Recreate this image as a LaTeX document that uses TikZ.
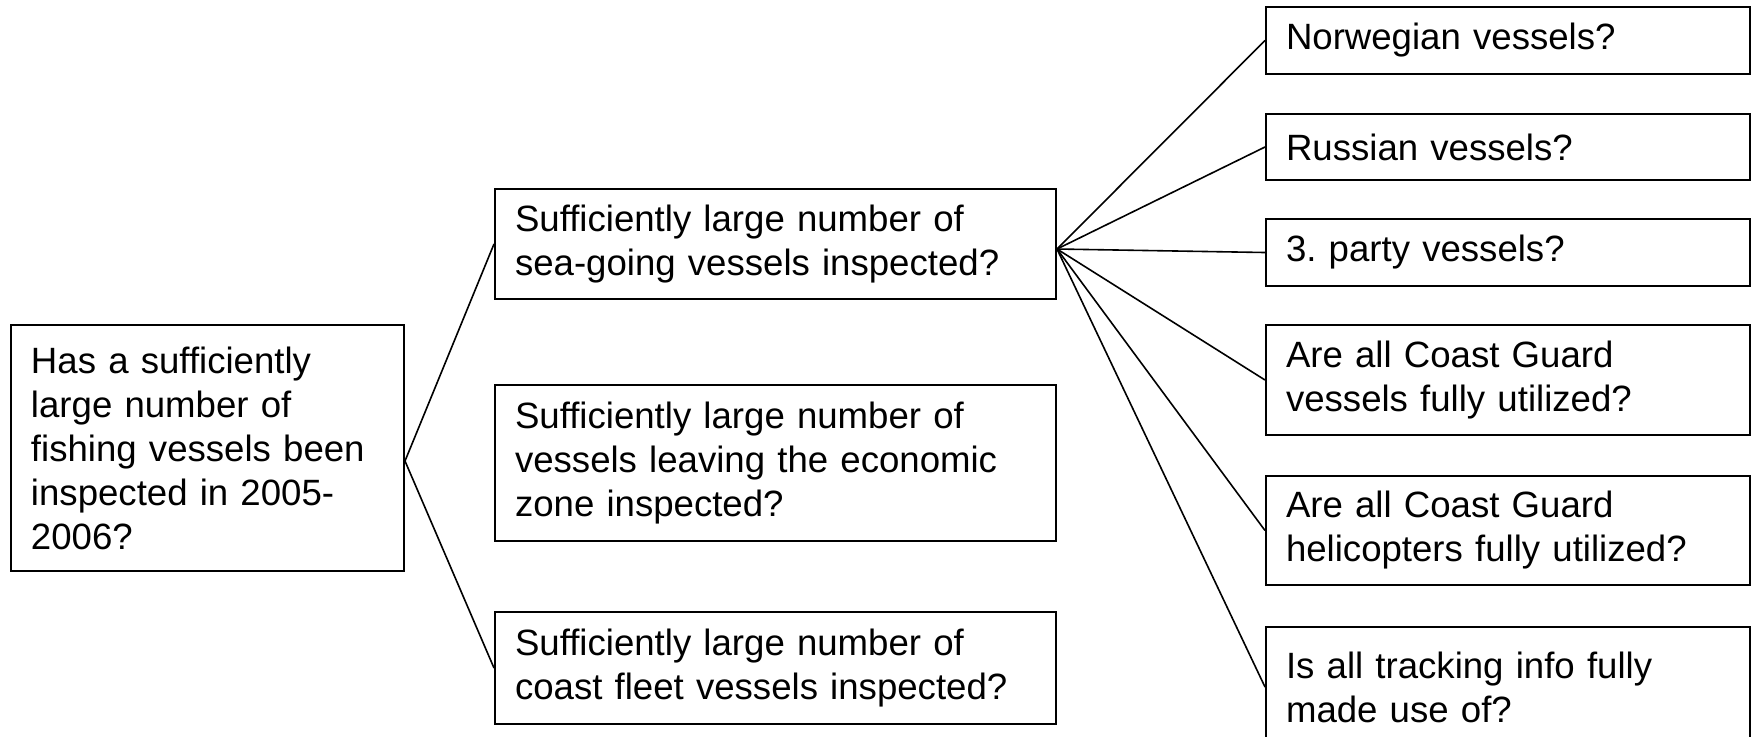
\documentclass[tikz,border=0pt]{standalone}
\usepackage{fontspec}
\setmainfont{Liberation Sans}
\frenchspacing
\begin{document}
\begin{tikzpicture}[x=0.5pt,y=-0.5pt,
  box/.style={draw=black, line width=1pt, rectangle, align=left,
    inner xsep=10pt, inner ysep=0pt, anchor=center,
    font=\fontsize{18.3}{22}\selectfont},
  rootbox/.style={box, text width=176.5pt},
  midbox/.style={box, text width=260.5pt},
  rightbox/.style={box, text width=222pt},
  conn/.style={draw=black, line width=0.8pt}]
\useasboundingbox (0,0) rectangle (1752,736);

\node[rootbox, minimum height=123pt] (root) at (207.5,448)
  {Has a sufficiently\\large number of\\fishing vessels been\\inspected in 2005-\\2006?};

\node[midbox, minimum height=55pt] (mid1) at (775.5,244)
  {Sufficiently large number of\\sea-going vessels inspected?};
\node[midbox, minimum height=78pt] (mid2) at (775.5,463)
  {Sufficiently large number of\\vessels leaving the economic\\zone inspected?};
\node[midbox, minimum height=56pt] (mid3) at (775.5,668)
  {Sufficiently large number of\\coast fleet vessels inspected?};

\node[rightbox, minimum height=33.5pt] (r1) at (1508,40.5) {Norwegian vessels?};
\node[rightbox, minimum height=33pt] (r2) at (1508,147) {Russian vessels?};
\node[rightbox, minimum height=33.5pt] (r3) at (1508,252.5) {3. party vessels?};
\node[rightbox, minimum height=55pt] (r4) at (1508,380)
  {Are all Coast Guard\\vessels fully utilized?};
\node[rightbox, minimum height=54.5pt] (r5) at (1508,530.5)
  {Are all Coast Guard\\helicopters fully utilized?};
\node[rightbox, minimum height=60pt] (r6) at (1508,687)
  {Is all tracking info fully\\made use of?};

\coordinate (rj) at ([yshift=-6.5pt]root.east);
\coordinate (mj) at ([yshift=-2.5pt]mid1.east);

\draw[conn] (rj) -- (mid1.west);
\draw[conn] (rj) -- (mid3.west);

\foreach \t in {r1,r2,r3,r4,r5,r6}
  \draw[conn] (mj) -- (\t.west);
\end{tikzpicture}
\end{document}
